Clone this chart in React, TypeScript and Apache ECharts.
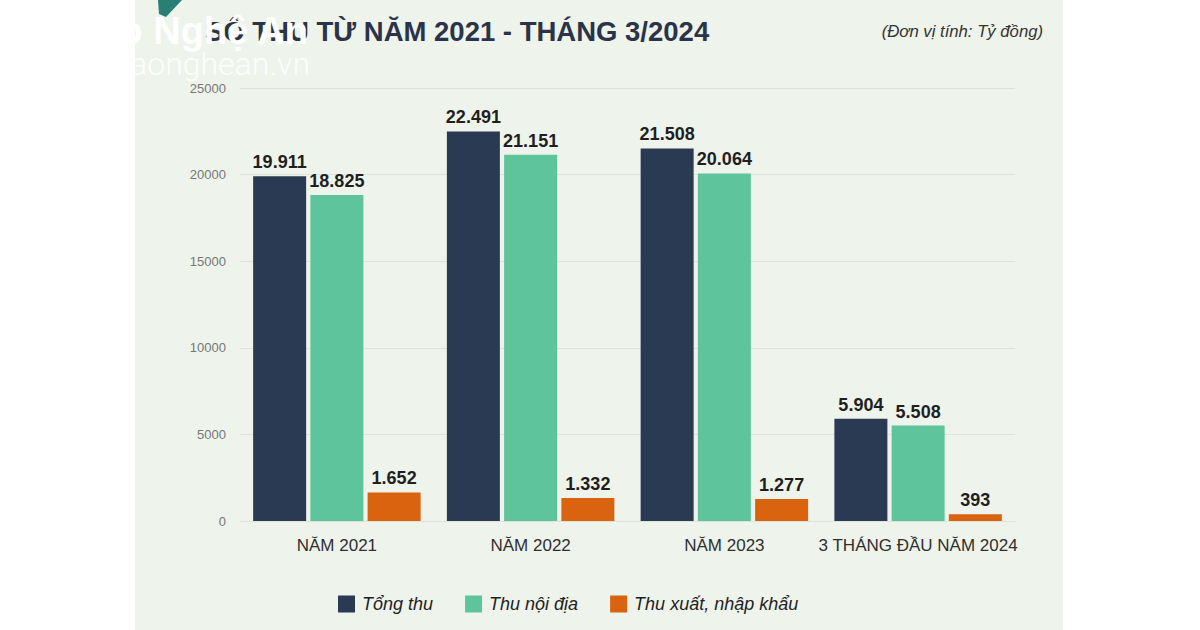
import React, { useEffect, useRef } from "react";
import * as echarts from "echarts";

const categories = ["NĂM 2021", "NĂM 2022", "NĂM 2023", "3 THÁNG ĐẦU NĂM 2024"];
const tongThu = [19911, 22491, 21508, 5904];
const thuNoiDia = [18825, 21151, 20064, 5508];
const thuXNK = [1652, 1332, 1277, 393];
const seriesNames = ["Tổng thu", "Thu nội địa", "Thu xuất, nhập khẩu"];
const colors = ["#2a3a52", "#5dc49b", "#d9630f"];

const FONT = "'Liberation Sans', Arial, sans-serif";

function fmt(v: number) {
  return String(v).replace(/\B(?=(\d{3})+(?!\d))/g, ".");
}

export default function App() {
  const ref = useRef<HTMLDivElement>(null);
  useEffect(() => {
    if (!ref.current) return;
    const chart = echarts.init(ref.current, null, { renderer: "svg" });
    const mk = (name: string, data: number[], color: string) => ({
      name,
      type: "bar",
      data,
      barWidth: 53,
      barGap: "8%",
      itemStyle: { color },
      label: {
        show: true,
        position: "top",
        distance: 5,
        formatter: (p: any) => fmt(p.value),
        fontFamily: FONT,
        fontWeight: "bold",
        fontSize: 18,
        color: "#1f1f1f",
      },
    });
    chart.setOption({
      animation: false,
      backgroundColor: "#ffffff",
      graphic: [
        { type: "rect", shape: { x: 135, y: 0, width: 928, height: 630 }, style: { fill: "#eef3eb" }, z: -10 },
        { type: "polygon", shape: { points: [[158, 0], [182, 0], [166, 17], [159, 14]] }, style: { fill: "#2a7f74" } },
        {
          type: "text",
          x: 205,
          y: 31,
          style: { text: "SỐ THU TỪ NĂM 2021 - THÁNG 3/2024", font: `bold 27.5px ${FONT}`, fill: "#2a3347", verticalAlign: "middle" },
        },
        {
          type: "text",
          x: 1043,
          y: 31,
          style: { text: "(Đơn vị tính: Tỷ đồng)", font: `italic 16.7px ${FONT}`, fill: "#333333", align: "right", verticalAlign: "middle" },
        },
        {
          type: "text",
          x: 308,
          y: 31,
          style: { text: "Báo Nghệ An", font: `bold 38px ${FONT}`, fill: "#ffffff", align: "right", verticalAlign: "middle" },
          z: 100,
        },
        {
          type: "text",
          x: 310,
          y: 64,
          style: { text: "baonghean.vn", font: `300 32px Roboto, sans-serif`, fill: "rgba(255,255,255,0.9)", align: "right", verticalAlign: "middle" },
          z: 100,
        },
      ],
      legend: {
        left: 333,
        top: 590,
        itemWidth: 17,
        itemHeight: 17,
        itemGap: 32,
        icon: "rect",
        textStyle: { fontFamily: FONT, fontStyle: "italic", fontSize: 18, color: "#222", padding: [0, 0, 0, 2] },
        data: seriesNames,
      },
      grid: { left: 240, right: 185, top: 88, bottom: 109, containLabel: false },
      xAxis: {
        type: "category",
        data: categories,
        axisLine: { show: true, lineStyle: { color: "#dde2da" } },
        axisTick: { show: false },
        axisLabel: { interval: 0, fontFamily: FONT, fontSize: 17, color: "#2f2f2f", margin: 16 },
      },
      yAxis: {
        type: "value",
        min: 0,
        max: 25000,
        interval: 5000,
        axisLine: { show: false },
        axisTick: { show: false },
        splitLine: { lineStyle: { color: "#dde2da" } },
        axisLabel: { formatter: (v: number) => String(v), fontFamily: FONT, fontSize: 13, color: "#777", margin: 14 },
      },
      series: [mk(seriesNames[0], tongThu, colors[0]), mk(seriesNames[1], thuNoiDia, colors[1]), mk(seriesNames[2], thuXNK, colors[2])],
    });
    return () => chart.dispose();
  }, []);
  return <div ref={ref} style={{ width: 1200, height: 630, position: "fixed", left: 0, top: 0 }} />;
}
